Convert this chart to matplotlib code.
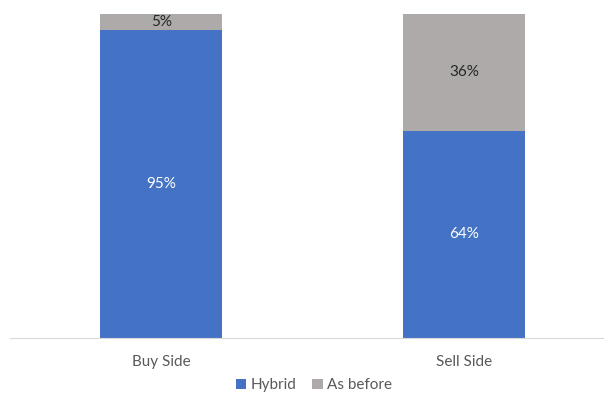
import matplotlib.pyplot as plt

plt.rcParams['font.family'] = ['Lato', 'DejaVu Sans']

sides = ["Buy Side", "Sell Side"]
hybrid = [95, 64]
as_before = [5, 36]

blue = "#4472C4"
grey = "#AEAAAA"

fig = plt.figure(figsize=(6.04, 3.94), dpi=100)
ax = fig.add_axes([10 / 604, 1 - 338 / 394, 1 - 10 / 604, 324 / 394])

x = range(len(sides))
width = 0.403
b1 = ax.bar(x, hybrid, width, color=blue, label="Hybrid")
b2 = ax.bar(x, as_before, width, bottom=hybrid, color=grey, label="As before")

for rect, v in zip(b1, hybrid):
    ax.text(rect.get_x() + rect.get_width() / 2, rect.get_y() + rect.get_height() / 2,
            f"{v}%", ha="center", va="center", color="white", fontsize=11)
for rect, v in zip(b2, as_before):
    ax.text(rect.get_x() + rect.get_width() / 2, rect.get_y() + rect.get_height() / 2,
            f"{v}%", ha="center", va="center", color="#262626", fontsize=11)

ax.set_ylim(0, 100)
ax.set_xlim(-0.5, 1.462)
ax.set_xticks(list(x))
ax.set_xticklabels(sides, color="#595959", fontsize=11)
ax.tick_params(axis="x", length=0, pad=12)
ax.set_yticks([])
for s in ["top", "right", "left"]:
    ax.spines[s].set_visible(False)
ax.spines["bottom"].set_color("#D9D9D9")

fig.legend(loc="center", bbox_to_anchor=(0.52, 0.022), ncol=2, frameon=False,
           handlelength=0.7, handleheight=0.7, handletextpad=0.3, columnspacing=1.0,
           fontsize=11, labelcolor="#595959", borderpad=0)

fig.savefig("out.png", dpi=100)
